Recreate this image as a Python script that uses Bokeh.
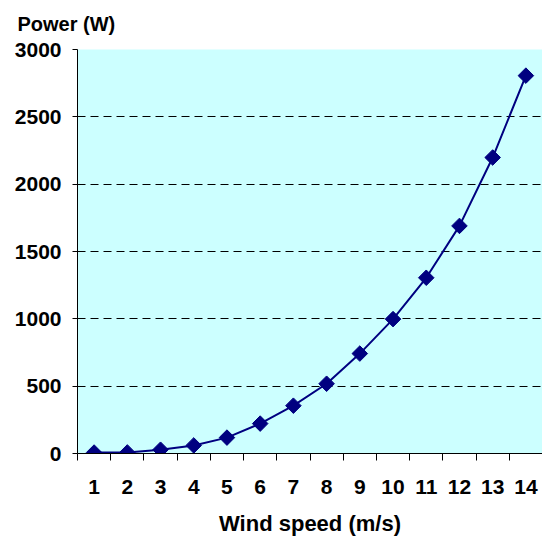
import math
from bokeh.plotting import figure
from bokeh.models import FixedTicker, Title, Range1d, ColumnDataSource
from bokeh.embed import file_html
from bokeh.resources import INLINE

# data
wind_speed = [1, 2, 3, 4, 5, 6, 7, 8, 9, 10, 11, 12, 13, 14]
power = [7, 8, 28, 60, 118, 222, 355, 518, 742, 998, 1305, 1690, 2198, 2806]
y_ticks = [0, 500, 1000, 1500, 2000, 2500, 3000]
x_boundaries = [k + 0.5 for k in range(0, 15)]

FONT = "Liberation Sans"
NAVY = "#000080"

p = figure(width=542, height=538, output_backend="svg", toolbar_location=None,
           x_range=Range1d(0.5, 14.5), y_range=Range1d(0, 3000),
           min_border_left=77, min_border_top=49, min_border_bottom=85, min_border_right=0)
p.background_fill_color = "#CCFFFF"
p.border_fill_color = "white"
p.outline_line_color = None

src = ColumnDataSource(dict(x=wind_speed, y=power))
p.line("x", "y", source=src, line_color=NAVY, line_width=2)
p.scatter("x", "y", source=src, marker="square", size=11, angle=math.pi / 4,
          fill_color=NAVY, line_color=NAVY)

# x axis
xa = p.xaxis[0]
xa.ticker = FixedTicker(ticks=wind_speed, minor_ticks=x_boundaries)
xa.major_tick_out = 0
xa.major_tick_in = 0
xa.minor_tick_out = 7
xa.minor_tick_in = 0
xa.minor_tick_line_color = "black"
xa.axis_line_color = "black"
xa.major_label_standoff = 19
xa.major_label_text_font = FONT
xa.major_label_text_font_style = "bold"
xa.major_label_text_font_size = "21px"
xa.major_label_text_color = "black"
xa.axis_label = "Wind speed (m/s)"
xa.axis_label_text_font = FONT
xa.axis_label_text_font_style = "bold"
xa.axis_label_text_font_size = "22px"
xa.axis_label_text_color = "black"
xa.axis_label_standoff = 14

# y axis
ya = p.yaxis[0]
ya.ticker = FixedTicker(ticks=y_ticks)
ya.major_tick_out = 5
ya.major_tick_in = 0
ya.minor_tick_out = 0
ya.minor_tick_in = 0
ya.axis_line_color = "black"
ya.major_tick_line_color = "black"
ya.major_label_standoff = 11
ya.major_label_text_font = FONT
ya.major_label_text_font_style = "bold"
ya.major_label_text_font_size = "21px"
ya.major_label_text_color = "black"

p.xgrid.grid_line_color = None
p.ygrid.ticker = FixedTicker(ticks=y_ticks[1:])
p.ygrid.grid_line_color = "black"
p.ygrid.grid_line_dash = "8 5"
p.ygrid.grid_line_width = 1

p.add_layout(Title(text="Power (W)", align="left", offset=-60, standoff=25,
                   vertical_align="top",
                   text_font=FONT, text_font_style="bold", text_font_size="20px",
                   text_color="black"), "above")

open("out.html", "w").write(file_html(p, INLINE))
